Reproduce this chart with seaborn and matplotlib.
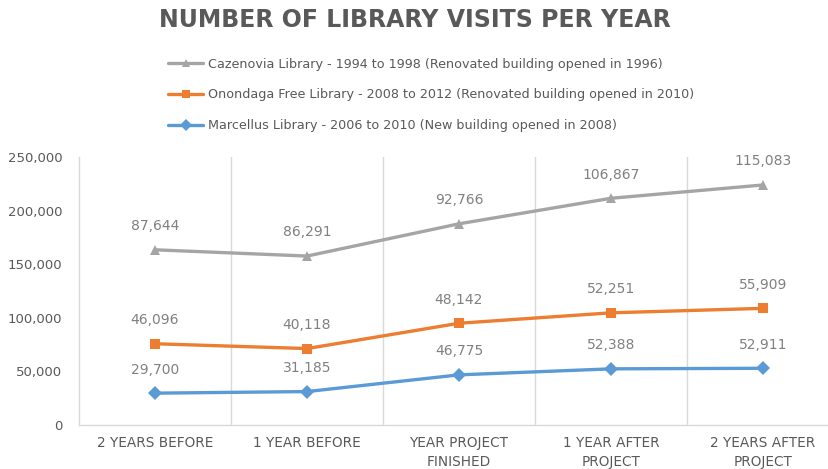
import numpy as np
import pandas as pd
import matplotlib
matplotlib.use("Agg")
import matplotlib.pyplot as plt
import seaborn as sns

categories = ["2 YEARS BEFORE", "1 YEAR BEFORE", "YEAR PROJECT\nFINISHED",
              "1 YEAR AFTER\nPROJECT", "2 YEARS AFTER\nPROJECT"]
marcellus = [29700, 31185, 46775, 52388, 52911]
onondaga = [46096, 40118, 48142, 52251, 55909]
cazenovia = [87644, 86291, 92766, 106867, 115083]
series_names = ["Cazenovia Library - 1994 to 1998 (Renovated building opened in 1996)",
                "Onondaga Free Library - 2008 to 2012 (Renovated building opened in 2010)",
                "Marcellus Library - 2006 to 2010 (New building opened in 2008)"]
title = "NUMBER OF LIBRARY VISITS PER YEAR"
yticks = [0, 50000, 100000, 150000, 200000, 250000]

colors = {series_names[0]: "#a5a5a5", series_names[1]: "#ed7d31", series_names[2]: "#5b9bd5"}
markers = {series_names[0]: "^", series_names[1]: "s", series_names[2]: "D"}

# stacked line chart: cumulative totals (bottom to top: Marcellus, Onondaga, Cazenovia)
stack_order = [(series_names[2], marcellus), (series_names[1], onondaga), (series_names[0], cazenovia)]
rows = []
base = np.zeros(len(categories))
for name, vals in stack_order:
    top = base + np.array(vals, dtype=float)
    for i, v in enumerate(vals):
        rows.append({"pos": i, "series": name, "value": v, "stack": top[i]})
    base = top
df = pd.DataFrame(rows)

sns.set_theme(style="white")
plt.rcParams['font.family'] = ['DejaVu Sans']

fig = plt.figure(figsize=(8.29, 4.69), dpi=100)
ax = fig.add_axes([79/829, 44/469, 760/829, 268/469])

sns.lineplot(data=df, x="pos", y="stack", hue="series", style="series",
             hue_order=series_names, style_order=series_names,
             palette=colors, markers=markers, dashes=False, linewidth=2.4,
             markersize=7, markeredgewidth=0, ax=ax, sort=False)

for _, r in df.iterrows():
    ax.annotate(f"{int(r['value']):,}", (r["pos"], r["stack"]), xytext=(0, 17),
                textcoords="offset points", ha="center", va="center",
                fontsize=10, color="#808080")

ax.set_xlim(-0.5, len(categories) - 0.5)
ax.set_ylim(0, 250000)
ax.set_yticks(yticks)
ax.set_yticklabels([f"{t:,}" for t in yticks], fontsize=9.5, color="#595959")
ax.set_xticks(range(len(categories)))
ax.set_xticklabels(categories, fontsize=9.8, color="#595959", linespacing=1.4)
ax.set_xticks(np.arange(0.5, len(categories) - 0.5, 1), minor=True)
ax.grid(False)
ax.grid(True, which="minor", axis="x", color="#d9d9d9", linewidth=1)
ax.tick_params(axis="both", which="both", length=0)
ax.tick_params(axis="y", pad=12)
ax.tick_params(axis="x", pad=8)
ax.set_xlabel("")
ax.set_ylabel("")
for s in ["top", "right"]:
    ax.spines[s].set_visible(False)
ax.spines["left"].set_color("#d9d9d9")
ax.spines["bottom"].set_color("#d9d9d9")
ax.spines["left"].set_linewidth(1)
ax.spines["bottom"].set_linewidth(1)

handles, labels = ax.get_legend_handles_labels()
if ax.legend_:
    ax.legend_.remove()
leg = fig.legend(handles, labels, loc="upper left", bbox_to_anchor=(157/829, 1 - 46/469),
                 frameon=False, handlelength=2.7, handletextpad=0.4, labelspacing=1.4,
                 markerscale=0.85, prop={"size": 9.2})
for t in leg.get_texts():
    t.set_color("#595959")

fig.text(0.5, 1 - 20/469, title, ha="center", va="center", fontsize=17,
         fontweight="bold", color="#595959")

fig.savefig("out.png", dpi=100)
